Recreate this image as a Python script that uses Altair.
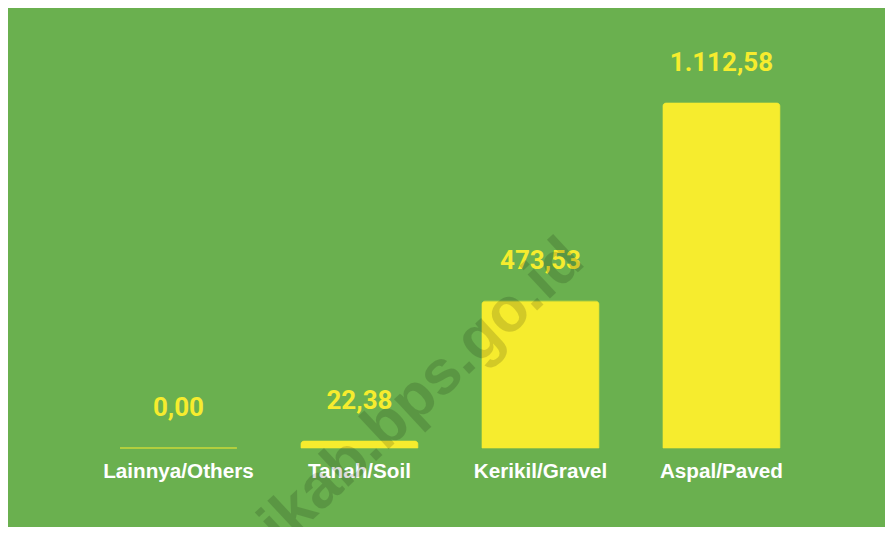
import altair as alt
import pandas as pd

categories = ["Lainnya/Others", "Tanah/Soil", "Kerikil/Gravel", "Aspal/Paved"]
values = [0.00, 22.38, 473.53, 1112.58]


def id_format(v):
    s = f"{v:,.2f}"
    return s.replace(",", "X").replace(".", ",").replace("X", ".")


df = pd.DataFrame({
    "cat": categories,
    "val": values,
    "label": [id_format(v) for v in values],
})

GREEN = "#6ab04f"
YELLOW = "#f6ec2e"

x_enc = alt.X("cat:N", sort=categories, axis=None,
              scale=alt.Scale(range=[21.5, 862.4], paddingInner=0.354, paddingOuter=0.5))
y_scale = alt.Scale(domain=[0, 1419], range=[440, 0], nice=False, zero=True)

base = alt.Chart(df)

bars = base.mark_bar(color=YELLOW, stroke=YELLOW, strokeWidth=1, strokeOpacity=0.6,
                     cornerRadiusTopLeft=3, cornerRadiusTopRight=3).encode(
    x=x_enc,
    y=alt.Y("val:Q", scale=y_scale, axis=None),
)

vals = base.mark_text(font="Roboto", fontWeight="bold", fontSize=26, color=YELLOW,
                      baseline="alphabetic", dy=-32).encode(
    x=x_enc,
    y=alt.Y("val:Q", scale=y_scale, axis=None),
    text="label:N",
)

cats = base.mark_text(font="Liberation Sans", fontWeight="bold", fontSize=20.7, color="white",
                      baseline="alphabetic", dy=30).encode(
    x=x_enc,
    y=alt.datum(0, scale=y_scale),
    text="cat:N",
)

wm = alt.Chart(pd.DataFrame({"t": ["ikab.bps.go.id"]})).mark_text(
    font="Liberation Sans", fontWeight="bold", fontSize=62, color="black", opacity=0.14,
    align="right", baseline="alphabetic", angle=317,
).encode(
    x=alt.value(579), y=alt.value(256), text="t:N",
)

chart = alt.layer(bars, vals, cats, wm).properties(
    width=877, height=519, background=GREEN, padding=0,
    autosize=alt.AutoSizeParams(type="none"),
).configure_view(stroke=None)

chart.save("out.html", embed_options={"renderer": "svg", "actions": False})
